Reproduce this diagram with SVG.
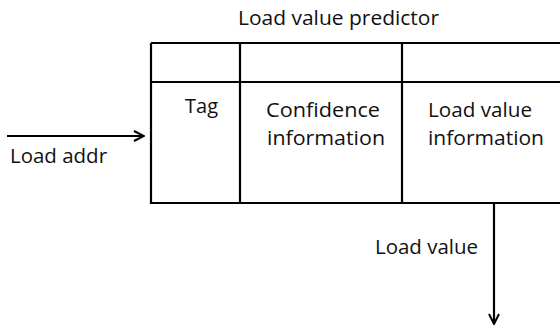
<svg xmlns="http://www.w3.org/2000/svg" width="560" height="332" viewBox="0 0 560 332">
<style>
.t{font-family:"Open Sans","Liberation Sans",sans-serif;font-size:20px;fill:#111}
.ln{stroke:#000;stroke-width:2.2;fill:none}
</style>
<defs>
<marker id="ah" viewBox="0 0 12 12" refX="11" refY="6" markerWidth="12" markerHeight="12" markerUnits="userSpaceOnUse" orient="auto">
<path d="M1,1 L11,6 L1,11" fill="none" stroke="#000" stroke-width="2"/>
</marker>
</defs>
<rect width="560" height="332" fill="#fff"/>
<text class="t" x="238" y="25" textLength="201" lengthAdjust="spacingAndGlyphs">Load value predictor</text>
<g id="predictor">
<path class="ln" d="M151,43 H562 M151,43 V203 H562 M151,82 H562 M240,43 V203 M402,43 V203"/>
</g>
<g id="tag"><text class="t" x="185" y="113" textLength="33" lengthAdjust="spacingAndGlyphs">Tag</text></g>
<g id="confidence">
<text class="t" x="266" y="117" textLength="114" lengthAdjust="spacingAndGlyphs">Confidence</text>
<text class="t" x="267" y="145" textLength="118" lengthAdjust="spacingAndGlyphs">information</text>
</g>
<g id="loadvalueinfo">
<text class="t" x="428" y="117" textLength="104" lengthAdjust="spacingAndGlyphs">Load value</text>
<text class="t" x="428" y="145" textLength="116" lengthAdjust="spacingAndGlyphs">information</text>
</g>
<g id="connectors">
<line class="ln" x1="7" y1="136" x2="144" y2="136" marker-end="url(#ah)"/>
<line class="ln" x1="494" y1="203" x2="494" y2="324" marker-end="url(#ah)"/>
</g>
<text class="t" x="10" y="163" textLength="97" lengthAdjust="spacingAndGlyphs">Load addr</text>
<text class="t" x="375" y="254" textLength="103" lengthAdjust="spacingAndGlyphs">Load value</text>
</svg>
